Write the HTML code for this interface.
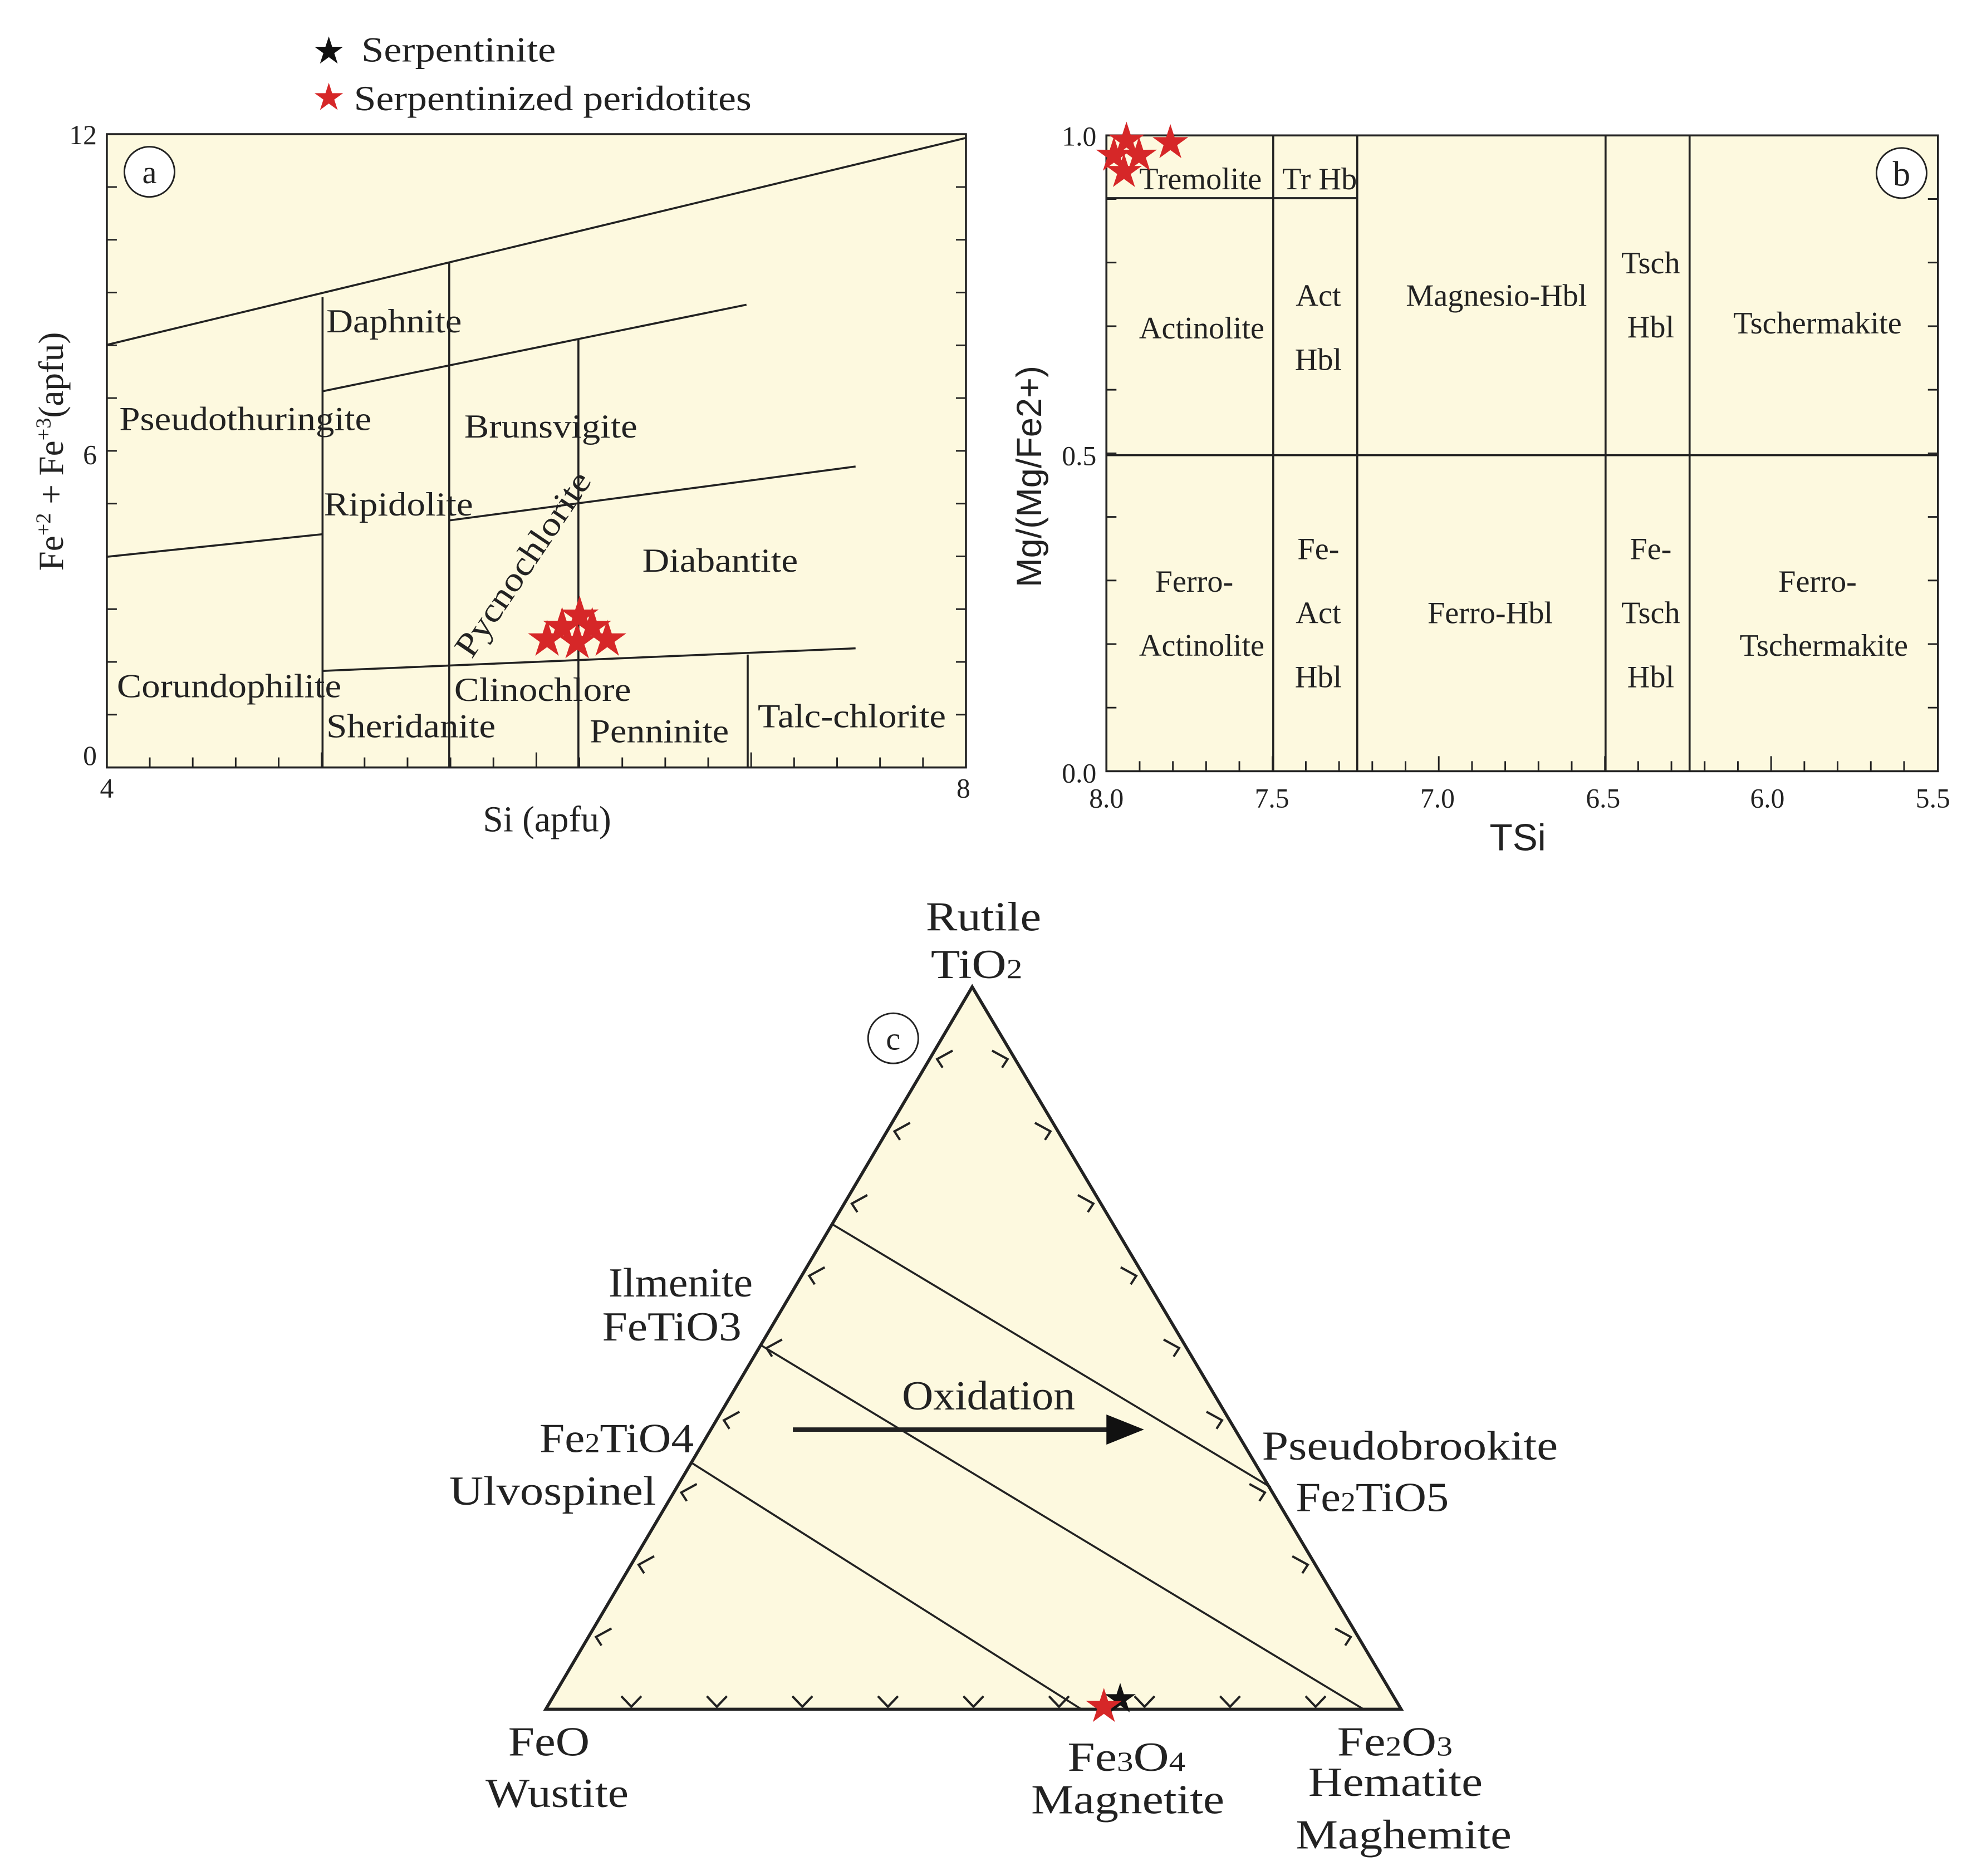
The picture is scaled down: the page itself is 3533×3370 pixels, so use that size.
<!DOCTYPE html>
<html><head><meta charset="utf-8"><style>
html,body{margin:0;padding:0;background:#fff}
svg{display:block}
text{font-family:"Liberation Serif",serif;fill:#222}
</style></head><body>
<svg width="3533" height="3370" viewBox="0 0 1568 1496" xmlns="http://www.w3.org/2000/svg">
<defs>
<polygon id="st" points="0,-1 0.223,-0.307 0.951,-0.309 0.361,0.117 0.588,0.809 0,0.38 -0.588,0.809 -0.361,0.117 -0.951,-0.309 -0.223,-0.307"/>
</defs>
<!-- legend -->
<use href="#st" transform="translate(262,41) scale(12)" fill="#111"/>
<text x="288" y="49" font-size="28" textLength="155" lengthAdjust="spacingAndGlyphs">Serpentinite</text>
<use href="#st" transform="translate(262,78) scale(12)" fill="#d62728"/>
<text x="282" y="88" font-size="28" textLength="317" lengthAdjust="spacingAndGlyphs">Serpentinized peridotites</text>

<!-- Panel a -->
<g stroke="#222" stroke-width="1.6" fill="none">
<rect x="85" y="107" width="685" height="505" fill="#fdf9df"/>
<line x1="85" y1="275" x2="770" y2="110"/>
<line x1="257" y1="312" x2="595" y2="243"/>
<line x1="257" y1="237" x2="257" y2="612"/>
<line x1="358" y1="210" x2="358" y2="612"/>
<line x1="461" y1="270" x2="461" y2="612"/>
<line x1="85" y1="444" x2="257" y2="426"/>
<line x1="358" y1="415" x2="682" y2="372"/>
<line x1="257" y1="535" x2="682" y2="517"/>
<line x1="596" y1="522" x2="596" y2="612"/>
</g>
<g id="ticksA" stroke="#222" stroke-width="1.3"></g>
<circle cx="119" cy="137" r="20" fill="#fff" stroke="#222" stroke-width="1.3"/>
<text x="119" y="146" font-size="26" text-anchor="middle">a</text>
<text x="77" y="115" font-size="22" text-anchor="end">12</text>
<text x="77" y="370" font-size="22" text-anchor="end">6</text>
<text x="77" y="610" font-size="22" text-anchor="end">0</text>
<text x="85" y="636" font-size="22" text-anchor="middle">4</text>
<text x="768" y="636" font-size="22" text-anchor="middle">8</text>
<text x="436" y="663" font-size="29" text-anchor="middle">Si (apfu)</text>
<text transform="translate(50,360) rotate(-90)" font-size="28" text-anchor="middle">Fe<tspan font-size="17" dy="-10">+2</tspan><tspan dy="10"> + Fe</tspan><tspan font-size="17" dy="-10">+3</tspan><tspan dy="10">(apfu)</tspan></text>
<g font-size="27" lengthAdjust="spacingAndGlyphs">
<text x="260" y="265" textLength="108" lengthAdjust="spacingAndGlyphs">Daphnite</text>
<text x="95" y="343" textLength="201" lengthAdjust="spacingAndGlyphs">Pseudothuringite</text>
<text x="370" y="349" textLength="138" lengthAdjust="spacingAndGlyphs">Brunsvigite</text>
<text x="258" y="411" textLength="119" lengthAdjust="spacingAndGlyphs">Ripidolite</text>
<text x="512" y="456" textLength="124" lengthAdjust="spacingAndGlyphs">Diabantite</text>
<text x="93" y="556" textLength="179" lengthAdjust="spacingAndGlyphs">Corundophilite</text>
<text x="362" y="559" textLength="141" lengthAdjust="spacingAndGlyphs">Clinochlore</text>
<text x="260" y="588" textLength="135" lengthAdjust="spacingAndGlyphs">Sheridanite</text>
<text x="470" y="592" textLength="111" lengthAdjust="spacingAndGlyphs">Penninite</text>
<text x="604" y="580" textLength="150" lengthAdjust="spacingAndGlyphs">Talc-chlorite</text>
<text transform="translate(376,526) rotate(-56)" textLength="172" lengthAdjust="spacingAndGlyphs">Pycnochlorite</text>
</g>
<g fill="#d62728">
<use href="#st" transform="translate(462,491) scale(16)"/>
<use href="#st" transform="translate(448,500) scale(16)"/>
<use href="#st" transform="translate(472,500) scale(16)"/>
<use href="#st" transform="translate(436,510) scale(16)"/>
<use href="#st" transform="translate(460,512) scale(16)"/>
<use href="#st" transform="translate(484,510) scale(16)"/>
</g>

<!-- Panel b -->
<g stroke="#222" stroke-width="1.6" fill="none">
<rect x="882" y="108" width="663" height="507" fill="#fdf9df"/>
<line x1="1015" y1="108" x2="1015" y2="615"/>
<line x1="1082" y1="108" x2="1082" y2="615"/>
<line x1="1280" y1="108" x2="1280" y2="615"/>
<line x1="1347" y1="108" x2="1347" y2="615"/>
<line x1="882" y1="363" x2="1545" y2="363"/>
<line x1="882" y1="158" x2="1082" y2="158"/>
</g>
<g id="ticksB" stroke="#222" stroke-width="1.3"></g>
<circle cx="1516" cy="138" r="20" fill="#fff" stroke="#222" stroke-width="1.3"/>
<text x="1516" y="148" font-size="28" text-anchor="middle">b</text>
<g font-size="22" text-anchor="end">
<text x="874" y="116">1.0</text><text x="874" y="371">0.5</text><text x="874" y="624">0.0</text>
</g>
<g font-size="22" text-anchor="middle">
<text x="882" y="644">8.0</text><text x="1014" y="644">7.5</text><text x="1146" y="644">7.0</text><text x="1278" y="644">6.5</text><text x="1409" y="644">6.0</text><text x="1541" y="644">5.5</text>
</g>
<text x="1210" y="678" font-size="30" text-anchor="middle" style="font-family:'Liberation Sans',sans-serif">TSi</text>
<text transform="translate(830,380) rotate(-90)" font-size="28" text-anchor="middle" style="font-family:'Liberation Sans',sans-serif">Mg/(Mg/Fe2+)</text>
<g font-size="25" text-anchor="middle">
<text x="957" y="151">Tremolite</text>
<text x="1052" y="151">Tr Hb</text>
<text x="958" y="270">Actinolite</text>
<text x="1051" y="244">Act</text><text x="1051" y="295">Hbl</text>
<text x="1193" y="244">Magnesio-Hbl</text>
<text x="1316" y="218">Tsch</text><text x="1316" y="269">Hbl</text>
<text x="1449" y="266">Tschermakite</text>
<text x="952" y="472">Ferro-</text><text x="958" y="523">Actinolite</text>
<text x="1051" y="446">Fe-</text><text x="1051" y="497">Act</text><text x="1051" y="548">Hbl</text>
<text x="1188" y="497">Ferro-Hbl</text>
<text x="1316" y="446">Fe-</text><text x="1316" y="497">Tsch</text><text x="1316" y="548">Hbl</text>
<text x="1449" y="472">Ferro-</text><text x="1454" y="523">Tschermakite</text>
</g>
<g fill="#d62728">
<use href="#st" transform="translate(898,112) scale(15)"/>
<use href="#st" transform="translate(888,124) scale(15)"/>
<use href="#st" transform="translate(908,124) scale(15)"/>
<use href="#st" transform="translate(896,137) scale(15)"/>
<use href="#st" transform="translate(933,114) scale(15)"/>
</g>

<!-- Panel c -->
<polygon points="775,787 435,1363 1117,1363" fill="#fdf9df" stroke="#222" stroke-width="2.5"/>
<g stroke="#222" stroke-width="1.6">
<line x1="663" y1="976" x2="1013" y2="1186"/>
<line x1="607" y1="1073" x2="1087" y2="1363"/>
<line x1="552" y1="1167" x2="862" y2="1363"/>
<line x1="632" y1="1140" x2="888" y2="1140" stroke-width="3.5"/>
</g>
<polygon points="882,1128 912,1140 882,1152" fill="#111"/>
<g id="ticksC" stroke="#222" stroke-width="1.8" fill="none"></g>
<circle cx="712" cy="828" r="20" fill="#fff" stroke="#222" stroke-width="1.3"/>
<text x="712" y="837" font-size="26" text-anchor="middle">c</text>
<g font-size="33">
<text x="738" y="742" textLength="92" lengthAdjust="spacingAndGlyphs">Rutile</text>
<text x="742" y="780" textLength="73" lengthAdjust="spacingAndGlyphs">TiO<tspan font-size="22">2</tspan></text>
<text x="485" y="1034" textLength="115" lengthAdjust="spacingAndGlyphs">Ilmenite</text>
<text x="480" y="1069" textLength="111" lengthAdjust="spacingAndGlyphs">FeTiO3</text>
<text x="430" y="1158" textLength="123" lengthAdjust="spacingAndGlyphs">Fe<tspan font-size="22">2</tspan>TiO4</text>
<text x="358" y="1200" textLength="165" lengthAdjust="spacingAndGlyphs">Ulvospinel</text>
<text x="719" y="1124" textLength="138" lengthAdjust="spacingAndGlyphs">Oxidation</text>
<text x="1006" y="1164" textLength="236" lengthAdjust="spacingAndGlyphs">Pseudobrookite</text>
<text x="1033" y="1205" textLength="122" lengthAdjust="spacingAndGlyphs">Fe<tspan font-size="22">2</tspan>TiO5</text>
<text x="405" y="1400" textLength="65" lengthAdjust="spacingAndGlyphs">FeO</text>
<text x="387" y="1441" textLength="114" lengthAdjust="spacingAndGlyphs">Wustite</text>
<text x="851" y="1412" textLength="94" lengthAdjust="spacingAndGlyphs">Fe<tspan font-size="22">3</tspan>O<tspan font-size="22">4</tspan></text>
<text x="822" y="1446" textLength="154" lengthAdjust="spacingAndGlyphs">Magnetite</text>
<text x="1066" y="1400" textLength="92" lengthAdjust="spacingAndGlyphs">Fe<tspan font-size="22">2</tspan>O<tspan font-size="22">3</tspan></text>
<text x="1043" y="1432" textLength="139" lengthAdjust="spacingAndGlyphs">Hematite</text>
<text x="1033" y="1474" textLength="172" lengthAdjust="spacingAndGlyphs">Maghemite</text>
</g>
<use href="#st" transform="translate(893,1355) scale(13)" fill="#111"/>
<use href="#st" transform="translate(880,1361) scale(15)" fill="#d62728"/>
</svg>
<script>
(function(){
var NS="http://www.w3.org/2000/svg";
function ln(g,x1,y1,x2,y2){var l=document.createElementNS(NS,"line");l.setAttribute("x1",x1);l.setAttribute("y1",y1);l.setAttribute("x2",x2);l.setAttribute("y2",y2);g.appendChild(l);}
var a=document.getElementById("ticksA");
for(var i=1;i<20;i++){var x=85+i*34.25;ln(a,x,612,x,i%5==0?600:604);}
for(var j=1;j<12;j++){var y=612-j*42.08;ln(a,770,y,762,y);ln(a,85,y,93,y);}
var b=document.getElementById("ticksB");
for(var i=1;i<25;i++){var x=882+i*26.5;ln(b,x,615,x,i%5==0?603:607);}
for(var j=1;j<10;j++){var y=615-j*50.7;ln(b,1545,y,1537,y);ln(b,882,y,890,y);}
var c=document.getElementById("ticksC");
var T=[775,787],L=[435,1363],R=[1117,1363];
function v(px,py,dx,dy,nx,ny){var s=8;var p=document.createElementNS(NS,"polyline");
p.setAttribute("points",(px+dx*s+nx*7)+","+(py+dy*s+ny*7)+" "+px+","+py+" "+(px-dx*s+nx*7)+","+(py-dy*s+ny*7));c.appendChild(p);}
for(var i=1;i<10;i++){var f=i/10;
var x=L[0]+(R[0]-L[0])*f;v(x,1363-2,1,0,0,-1.2);
var lx=L[0]+(T[0]-L[0])*f,ly=L[1]+(T[1]-L[1])*f;v(lx+6,ly,0.5,-0.85,1.2,0);
var rx=R[0]+(T[0]-R[0])*f,ry=R[1]+(T[1]-R[1])*f;v(rx-6,ry,-0.5,-0.85,-1.2,0);}
})();
</script>
</body></html>
